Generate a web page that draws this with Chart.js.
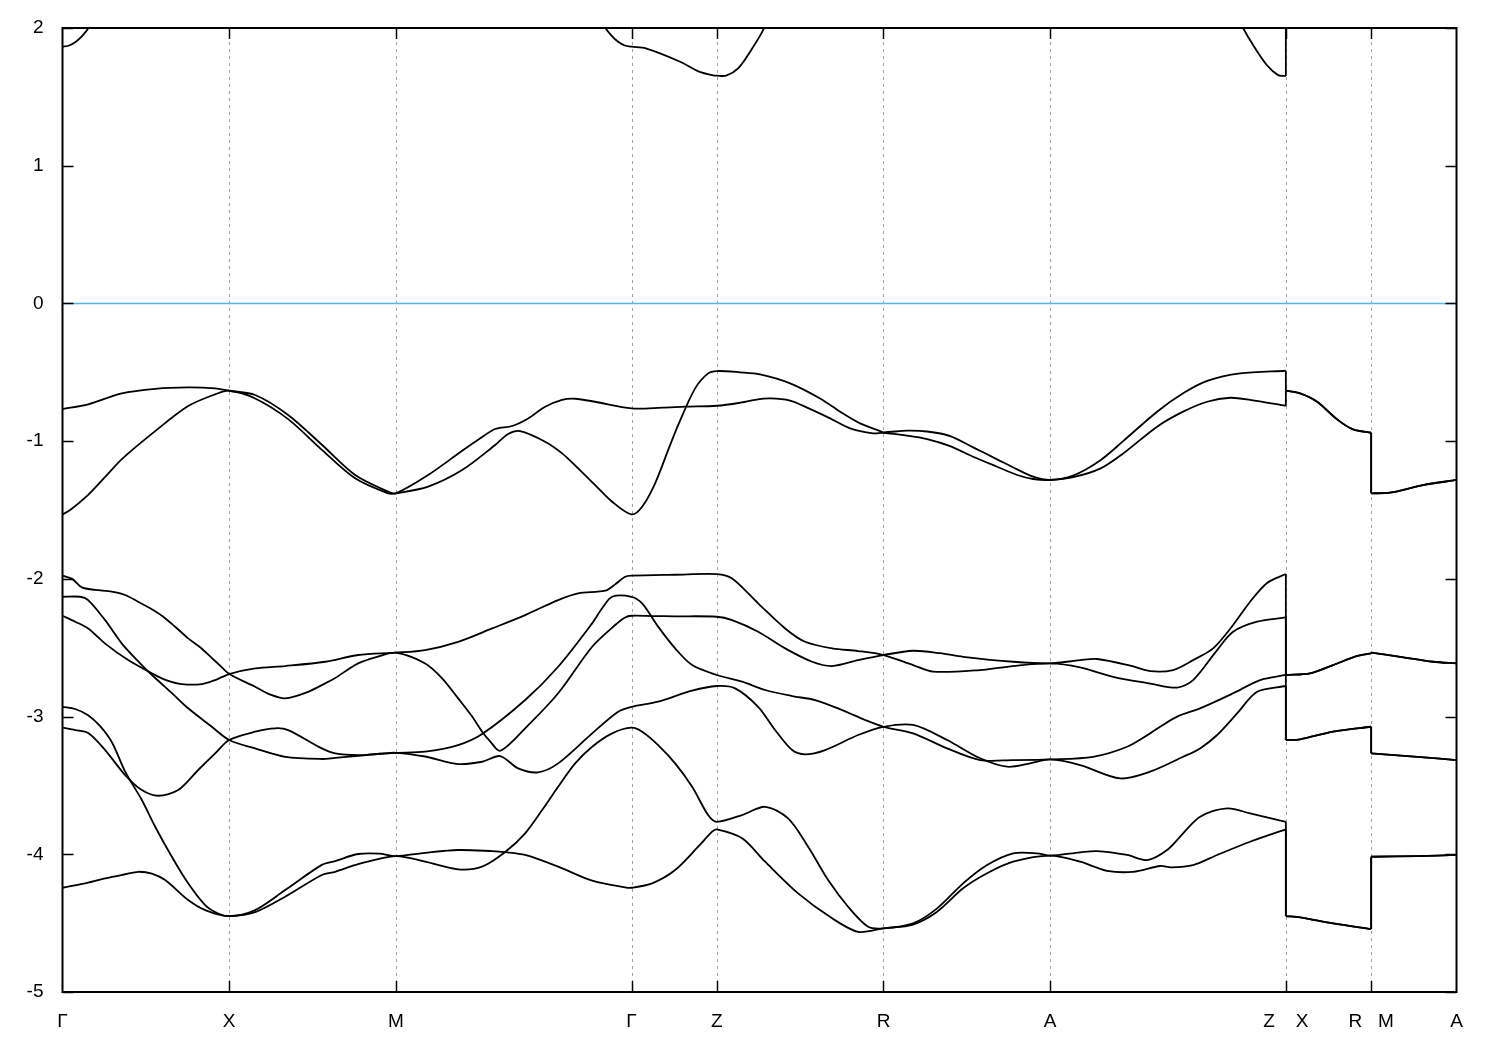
<!DOCTYPE html>
<html><head><meta charset="utf-8">
<script src="https://cdn.jsdelivr.net/npm/chart.js@4.4.0/dist/chart.umd.min.js"></script>
<style>html,body{margin:0;padding:0;background:#fff;}#wrap{width:1500px;height:1050px;}</style>
</head><body><div id="wrap"><canvas id="c" width="1500" height="1050"></canvas></div>
<script>
// k-path (units of 2*pi/a), tetragonal: Γ-X-M-Γ-Z-R-A-Z|X-R|M-A
const kTicks = [0, 0.5, 1.0, 1.7071, 1.9631, 2.4631, 2.9631, 3.6702, 3.9262, 4.1822];
const kLabels = ['Γ', 'X', 'M', 'Γ', 'Z', 'R', 'A', 'Z    X', 'R   M', 'A'];
const yTicks = [-5, -4, -3, -2, -1, 0, 1, 2];
const fermiLevel = 0;

// bands: [k, E(eV)]
const band1 = [[0,-1.977],[0.029,-2.0],[0.058,-2.062],[0.098,-2.08],[0.148,-2.093],[0.188,-2.117],[0.227,-2.166],[0.263,-2.214],[0.299,-2.27],[0.338,-2.348],[0.377,-2.432],[0.413,-2.497],[0.449,-2.577],[0.473,-2.63],[0.5,-2.691],
[0.578,-2.783],[0.623,-2.84],[0.668,-2.868],[0.737,-2.82],[0.788,-2.759],[0.818,-2.72],[0.887,-2.614],[0.953,-2.56],[1.0,-2.536],
[1.088,-2.614],[1.139,-2.722],[1.187,-2.868],[1.229,-3.0],[1.259,-3.11],[1.283,-3.18],[1.313,-3.248],[1.388,-3.085],[1.487,-2.831],[1.589,-2.493],[1.658,-2.335],[1.688,-2.28],[1.7071,-2.268],
[1.77,-2.27],[1.838,-2.272],[1.9631,-2.275],
[2.009,-2.30],[2.087,-2.384],[2.168,-2.505],[2.249,-2.602],[2.309,-2.633],[2.387,-2.59],[2.4631,-2.553],
[2.552,-2.522],[2.633,-2.54],[2.702,-2.566],[2.852,-2.602],[2.9631,-2.614],
[3.053,-2.59],[3.104,-2.582],[3.203,-2.63],[3.263,-2.67],[3.332,-2.662],[3.392,-2.59],[3.452,-2.505],[3.512,-2.335],[3.563,-2.166],[3.614,-2.03],[3.6702,-1.965],
[3.6702,-2.698],[3.743,-2.686],[3.812,-2.626],[3.884,-2.56],[3.9262,-2.541],
[3.9262,-2.536],[4.013,-2.566],[4.112,-2.602],[4.1822,-2.614]];

const band2 = [[0,-2.13],[0.053,-2.13],[0.077,-2.154],[0.128,-2.30],[0.178,-2.47],[0.238,-2.626],[0.278,-2.72],[0.329,-2.831],[0.377,-2.94],[0.448,-3.074],[0.5,-3.17],
[0.578,-3.231],[0.668,-3.292],[0.778,-3.308],[0.818,-3.30],[0.887,-3.285],[0.953,-3.27],[1.0,-3.263],
[1.088,-3.255],[1.187,-3.207],[1.259,-3.127],[1.388,-2.88],[1.487,-2.638],[1.589,-2.323],[1.619,-2.214],[1.649,-2.13],[1.7071,-2.13],
[1.739,-2.178],[1.787,-2.347],[1.838,-2.505],[1.889,-2.626],[1.9631,-2.698],
[2.039,-2.747],[2.108,-2.807],[2.189,-2.851],[2.258,-2.88],[2.339,-2.953],[2.408,-3.025],[2.4631,-3.074],
[2.552,-3.122],[2.654,-3.231],[2.753,-3.316],[2.852,-3.316],[2.9631,-3.311],
[3.092,-3.292],[3.194,-3.219],[3.263,-3.122],[3.293,-3.074],[3.344,-3.0],[3.413,-2.94],[3.512,-2.831],[3.593,-2.735],[3.6702,-2.698],
[3.6702,-3.17],[3.713,-3.165],[3.812,-3.11],[3.9262,-3.074],
[3.9262,-3.267],[4.065,-3.292],[4.1822,-3.316]];

const band3 = [[0,-2.268],[0.038,-2.311],[0.077,-2.36],[0.128,-2.47],[0.197,-2.59],[0.268,-2.686],[0.311,-2.735],[0.358,-2.764],[0.418,-2.764],[0.458,-2.735],[0.5,-2.691],
[0.578,-2.65],[0.668,-2.633],[0.788,-2.602],[0.887,-2.553],[1.0,-2.536],
[1.088,-2.517],[1.187,-2.457],[1.289,-2.36],[1.388,-2.263],[1.487,-2.154],[1.547,-2.105],[1.628,-2.086],[1.658,-2.04],[1.688,-1.985],[1.7071,-1.977],
[1.838,-1.97],[1.9631,-1.965],
[2.009,-1.997],[2.087,-2.178],[2.168,-2.36],[2.228,-2.457],[2.309,-2.505],[2.387,-2.524],[2.4631,-2.553],
[2.552,-2.626],[2.612,-2.674],[2.753,-2.662],[2.852,-2.633],[2.9631,-2.614],
[3.053,-2.643],[3.152,-2.711],[3.263,-2.76],[3.344,-2.79],[3.392,-2.735],[3.464,-2.517],[3.512,-2.384],[3.584,-2.311],[3.6702,-2.28],
[3.6702,-2.698],[3.743,-2.686],[3.812,-2.626],[3.884,-2.56],[3.9262,-2.541],
[3.9262,-2.536],[4.013,-2.566],[4.112,-2.602],[4.1822,-2.614]];

const band4 = [[0,-2.929],[0.038,-2.945],[0.077,-2.99],[0.113,-3.07],[0.149,-3.19],[0.188,-3.40],[0.238,-3.606],[0.278,-3.80],[0.328,-4.018],[0.377,-4.211],[0.428,-4.369],[0.467,-4.43],[0.5,-4.449],
[0.578,-4.42],[0.668,-4.308],[0.778,-4.15],[0.818,-4.127],[0.887,-4.071],[1.0,-4.013],
[1.088,-4.054],[1.187,-4.109],[1.259,-4.09],[1.328,-3.984],[1.388,-3.848],[1.439,-3.679],[1.487,-3.51],[1.538,-3.34],[1.589,-3.219],[1.649,-3.122],[1.7071,-3.081],
[1.739,-3.11],[1.787,-3.207],[1.838,-3.34],[1.889,-3.51],[1.937,-3.715],[1.9631,-3.764],
[2.039,-3.715],[2.108,-3.655],[2.177,-3.739],[2.237,-3.945],[2.297,-4.187],[2.357,-4.381],[2.417,-4.526],[2.4631,-4.538],
[2.552,-4.502],[2.624,-4.393],[2.702,-4.211],[2.774,-4.078],[2.852,-3.993],[2.924,-3.993],[2.9631,-4.01],
[3.053,-3.986],[3.104,-3.977],[3.194,-4.005],[3.254,-4.042],[3.314,-3.969],[3.362,-3.848],[3.413,-3.727],[3.494,-3.667],[3.563,-3.703],[3.6702,-3.764],
[3.6702,-4.449],[3.713,-4.458],[3.812,-4.502],[3.9262,-4.543],
[3.9262,-4.018],[4.065,-4.013],[4.1822,-4.005]];

const band5 = [[0,-3.081],[0.038,-3.098],[0.077,-3.12],[0.128,-3.243],[0.188,-3.425],[0.238,-3.534],[0.287,-3.575],[0.347,-3.534],[0.407,-3.388],[0.458,-3.267],[0.5,-3.17],
[0.578,-3.11],[0.638,-3.085],[0.677,-3.098],[0.778,-3.231],[0.818,-3.267],[0.887,-3.28],[0.953,-3.27],[1.0,-3.263],
[1.088,-3.29],[1.187,-3.345],[1.259,-3.328],[1.313,-3.287],[1.367,-3.376],[1.427,-3.405],[1.487,-3.34],[1.589,-3.122],[1.667,-2.965],[1.7071,-2.929],
[1.787,-2.892],[1.889,-2.812],[1.9631,-2.778],
[2.018,-2.795],[2.087,-2.929],[2.138,-3.098],[2.189,-3.243],[2.228,-3.274],[2.288,-3.243],[2.387,-3.134],[2.4631,-3.074],
[2.552,-3.061],[2.654,-3.17],[2.753,-3.303],[2.834,-3.364],[2.903,-3.34],[2.9631,-3.311],
[3.053,-3.352],[3.173,-3.449],[3.263,-3.40],[3.362,-3.292],[3.413,-3.231],[3.464,-3.134],[3.524,-2.977],[3.584,-2.82],[3.6702,-2.778],
[3.6702,-3.17],[3.713,-3.165],[3.812,-3.11],[3.9262,-3.074],
[3.9262,-3.267],[4.065,-3.292],[4.1822,-3.316]];

const band6 = [[0,-4.243],[0.077,-4.206],[0.128,-4.175],[0.188,-4.145],[0.227,-4.127],[0.268,-4.14],[0.308,-4.187],[0.377,-4.332],[0.428,-4.405],[0.5,-4.449],
[0.578,-4.405],[0.668,-4.26],[0.778,-4.077],[0.818,-4.049],[0.887,-3.998],[0.95,-3.995],[1.0,-4.013],
[1.088,-3.989],[1.187,-3.969],[1.289,-3.977],[1.328,-3.984],[1.388,-4.005],[1.487,-4.09],[1.589,-4.192],[1.688,-4.24],[1.7071,-4.243],
[1.769,-4.211],[1.838,-4.114],[1.907,-3.945],[1.949,-3.836],[1.9631,-3.819],
[2.039,-3.884],[2.108,-4.054],[2.207,-4.284],[2.309,-4.465],[2.387,-4.563],[2.4631,-4.538],
[2.552,-4.51],[2.624,-4.417],[2.702,-4.247],[2.774,-4.138],[2.852,-4.054],[2.9631,-4.01],
[3.053,-4.054],[3.134,-4.12],[3.212,-4.127],[3.293,-4.085],[3.326,-4.095],[3.392,-4.078],[3.464,-4.005],[3.563,-3.909],[3.6702,-3.819],
[3.6702,-4.449],[3.713,-4.458],[3.812,-4.502],[3.9262,-4.543],
[3.9262,-4.018],[4.065,-4.013],[4.1822,-4.005]];

const band7 = [[0,-0.767],[0.077,-0.733],[0.178,-0.653],[0.278,-0.62],[0.377,-0.61],[0.458,-0.617],[0.5,-0.634],
[0.578,-0.665],[0.677,-0.81],[0.779,-1.028],[0.878,-1.246],[0.977,-1.367],[1.0,-1.379],
[1.097,-1.246],[1.199,-1.07],[1.247,-0.99],[1.298,-0.912],[1.349,-0.89],[1.397,-0.835],[1.448,-0.75],[1.499,-0.70],[1.538,-0.692],[1.598,-0.714],[1.7071,-0.762],
[1.799,-0.757],[1.868,-0.75],[1.9631,-0.743],
[2.033,-0.721],[2.078,-0.70],[2.123,-0.69],[2.183,-0.706],[2.234,-0.757],[2.303,-0.835],[2.363,-0.907],[2.432,-0.943],[2.4631,-0.94],
[2.534,-0.96],[2.594,-0.985],[2.663,-1.036],[2.732,-1.113],[2.804,-1.186],[2.864,-1.246],[2.912,-1.275],[2.9631,-1.282],
[3.032,-1.262],[3.113,-1.2],[3.182,-1.09],[3.284,-0.895],[3.362,-0.786],[3.434,-0.714],[3.503,-0.685],[3.563,-0.70],[3.6702,-0.743],
[3.6702,-0.634],[3.713,-0.653],[3.764,-0.714],[3.824,-0.842],[3.872,-0.915],[3.9262,-0.939],
[3.9262,-1.379],[3.983,-1.374],[4.082,-1.319],[4.1822,-1.282]];

const band8 = [[0,-1.532],[0.023,-1.50],[0.077,-1.39],[0.128,-1.26],[0.178,-1.13],[0.278,-0.927],[0.377,-0.745],[0.458,-0.66],[0.5,-0.634],
[0.578,-0.69],[0.677,-0.84],[0.779,-1.065],[0.878,-1.27],[0.977,-1.379],[1.0,-1.379],
[1.097,-1.33],[1.199,-1.21],[1.298,-1.028],[1.337,-0.948],[1.373,-0.927],[1.448,-1.004],[1.499,-1.089],[1.547,-1.198],[1.598,-1.319],[1.649,-1.44],[1.7071,-1.532],
[1.739,-1.476],[1.778,-1.306],[1.817,-1.065],[1.847,-0.883],[1.898,-0.617],[1.937,-0.508],[1.9631,-0.491],
[2.033,-0.50],[2.093,-0.515],[2.183,-0.58],[2.273,-0.69],[2.333,-0.786],[2.393,-0.871],[2.453,-0.927],[2.4631,-0.936],
[2.534,-0.924],[2.594,-0.93],[2.663,-0.963],[2.732,-1.045],[2.804,-1.132],[2.864,-1.205],[2.912,-1.258],[2.9631,-1.282],
[3.032,-1.25],[3.113,-1.14],[3.182,-1.0],[3.284,-0.786],[3.362,-0.653],[3.434,-0.563],[3.533,-0.508],[3.6702,-0.489],
[3.6702,-0.634],[3.713,-0.653],[3.764,-0.714],[3.824,-0.842],[3.872,-0.915],[3.9262,-0.939],
[3.9262,-1.379],[3.983,-1.374],[4.082,-1.319],[4.1822,-1.282]];

const band9 = [[0,1.864],[0.02,1.873],[0.04,1.90],[0.06,1.945],[0.08,2.007],[0.12,2.19],[0.25,2.8],[0.5,3.1],
[0.75,3.2],[1.0,3.1],
[1.3,2.9],[1.45,2.7],[1.587,2.19],[1.627,2.007],[1.647,1.945],[1.667,1.90],[1.687,1.873],[1.7071,1.864],
[1.75,1.852],[1.853,1.755],[1.91,1.683],[1.955,1.654],[1.9631,1.654],
[1.991,1.654],[2.027,1.707],[2.063,1.828],[2.105,2.0],[2.15,2.3],[2.3,2.8],[2.4631,3.0],
[2.7,3.1],[2.9631,3.0],
[3.3,2.7],[3.413,2.5],[3.512,2.15],[3.542,2.0],[3.572,1.876],[3.613,1.731],[3.647,1.658],[3.6702,1.651],
[3.6702,2.6],[3.9262,2.7],
[3.9262,2.7],[4.1822,2.8]];

const bands = [band1, band2, band3, band4, band5, band6, band7, band8, band9];

const datasets = [];
datasets.push({data: [{x: kTicks[0], y: fermiLevel}, {x: kTicks[kTicks.length - 1], y: fermiLevel}],
  borderColor: '#56b4e9', borderWidth: 1.5, tension: 0, pointRadius: 0});
function piece(pts, t) {
  return {data: pts, borderColor: '#000', borderWidth: 1.8, tension: t, pointRadius: 0, fill: false};
}
bands.forEach(b => {
  let cur = [];
  for (let i = 0; i < b.length; i++) {
    const p = {x: b[i][0], y: b[i][1]};
    if (cur.length && b[i][0] === b[i - 1][0]) {
      datasets.push(piece(cur, 0.3));
      datasets.push(piece([cur[cur.length - 1], p], 0));
      cur = [p];
    } else cur.push(p);
  }
  datasets.push(piece(cur, 0.3));
});

const fontFam = '"Liberation Sans", Arial, sans-serif';
const framePlugin = {
  id: 'frame',
  beforeDatasetsDraw(chart) {
    const {ctx, chartArea: a, scales: {x}} = chart;
    ctx.save();
    ctx.strokeStyle = '#a0a0a0'; ctx.lineWidth = 1; ctx.setLineDash([3, 4]);
    kTicks.slice(1, -1).forEach(v => {
      const px = Math.round(x.getPixelForValue(v)) + 0.5;
      ctx.beginPath(); ctx.moveTo(px, a.top); ctx.lineTo(px, a.bottom); ctx.stroke();
    });
    ctx.restore();
  },
  afterDatasetsDraw(chart) {
    const {ctx, chartArea: a, scales: {x, y}} = chart;
    ctx.save();
    ctx.strokeStyle = '#000'; ctx.lineWidth = 1.5; ctx.setLineDash([]);
    const tl = 11;
    kTicks.slice(1, -1).forEach(v => {
      const px = Math.round(x.getPixelForValue(v)) + 0.5;
      ctx.beginPath(); ctx.moveTo(px, a.bottom); ctx.lineTo(px, a.bottom - tl);
      ctx.moveTo(px, a.top); ctx.lineTo(px, a.top + tl); ctx.stroke();
    });
    yTicks.forEach(v => {
      const py = Math.round(y.getPixelForValue(v)) + 0.5;
      ctx.beginPath(); ctx.moveTo(a.left, py); ctx.lineTo(a.left + tl, py);
      ctx.moveTo(a.right, py); ctx.lineTo(a.right - tl, py); ctx.stroke();
    });
    ctx.lineWidth = 2;
    ctx.strokeRect(a.left, a.top, a.right - a.left, a.bottom - a.top);
    ctx.restore();
  }
};

new Chart(document.getElementById('c'), {
  type: 'line',
  data: {datasets},
  options: {
    responsive: false, animation: false, devicePixelRatio: 1,
    layout: {padding: {left: 0, right: 43.5, top: 28, bottom: 0}},
    elements: {line: {capBezierPoints: false}},
    plugins: {legend: {display: false}, tooltip: {enabled: false}},
    scales: {
      x: {type: 'linear', min: kTicks[0], max: kTicks[kTicks.length - 1],
        afterBuildTicks: s => { s.ticks = kTicks.map(v => ({value: v})); },
        ticks: {callback: (v, i) => kLabels[i], autoSkip: false, maxRotation: 0, color: '#000',
          font: {family: fontFam, size: 19}, padding: 10},
        grid: {display: false}, border: {display: false},
        afterFit: s => { s.height = 58; }},
      y: {type: 'linear', min: -5, max: 2,
        afterBuildTicks: s => { s.ticks = yTicks.map(v => ({value: v})); },
        ticks: {color: '#000', font: {family: fontFam, size: 19}, padding: 11},
        grid: {display: false}, border: {display: false},
        afterFit: s => { s.width = 62.5; }}
    }
  },
  plugins: [framePlugin]
});
</script>
</body></html>
